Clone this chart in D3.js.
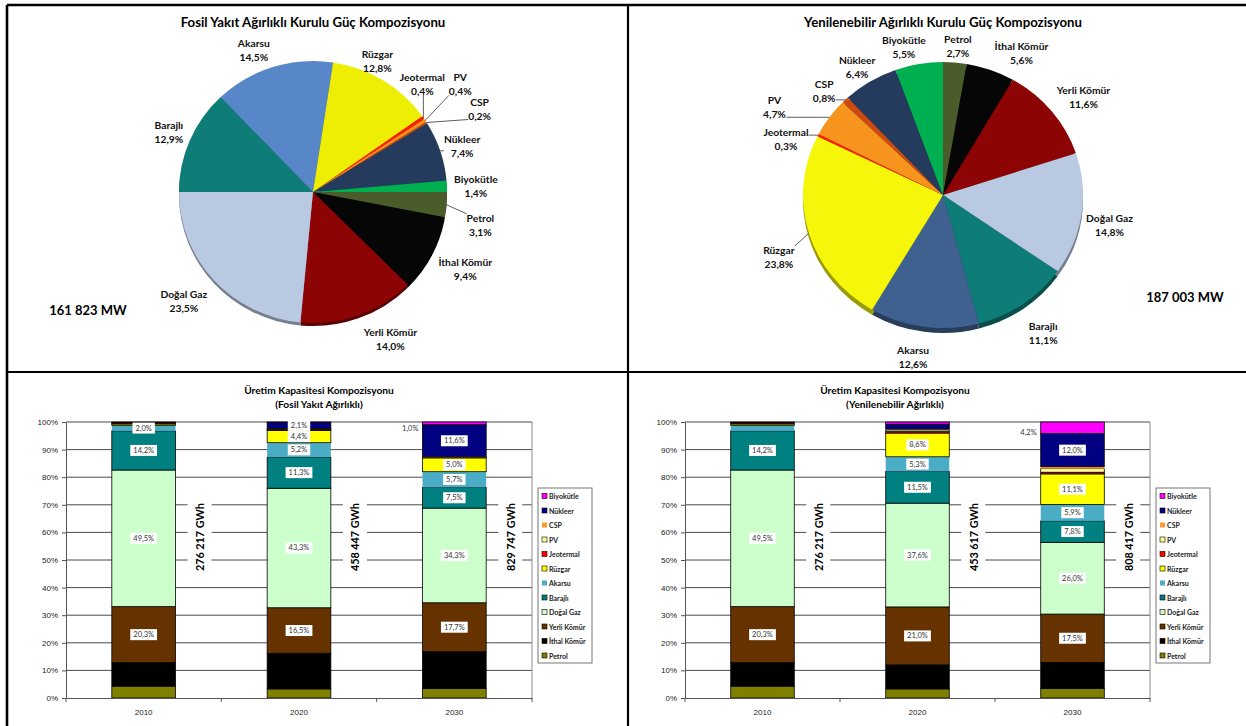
<!DOCTYPE html>
<html><head><meta charset="utf-8">
<script src="https://cdn.jsdelivr.net/npm/d3@7"></script>
<style>
body{margin:0;background:#fff;}
svg{display:block;font-family:Lato,"Open Sans",sans-serif;}
</style></head><body>
<svg id="chart" width="1246" height="726"></svg>
<script>
// ---------- DATA ----------
const series = ["Petrol","İthal Kömür","Yerli Kömür","Doğal Gaz","Barajlı","Akarsu","Rüzgar","Jeotermal","PV","CSP","Nükleer","Biyokütle"];
const years = ["2010","2020","2030"];

const pieFossil = [3.1, 9.4, 14.0, 23.5, 12.9, 14.5, 12.8, 0.4, 0.4, 0.2, 7.4, 1.4];
const pieRenew  = [2.7, 5.6, 11.6, 14.8, 11.1, 12.6, 23.8, 0.3, 4.7, 0.8, 6.4, 5.5];
const mwFossil = 161823;
const mwRenew = 187003;

const fossil2010 = [4.3, 8.5, 20.3, 49.5, 14.2, 2.0, 0.5, 0.4, 0, 0, 0, 0.3];
const fossil2020 = [3.3, 12.9, 16.5, 43.3, 11.3, 5.2, 4.4, 0.4, 0.3, 0.1, 2.1, 0.2];
const fossil2030 = [3.5, 13.3, 17.7, 34.3, 7.5, 5.7, 5.0, 0.1, 0.1, 0.2, 11.6, 1.0];
const renew2010  = [4.3, 8.5, 20.3, 49.5, 14.2, 2.0, 0.5, 0.4, 0, 0, 0, 0.3];
const renew2020  = [3.3, 8.7, 21.0, 37.6, 11.5, 5.3, 8.6, 0.5, 0.6, 0.3, 1.8, 0.8];
const renew2030  = [3.5, 9.4, 17.5, 26.0, 7.8, 5.9, 11.1, 0.6, 1.3, 0.7, 12.0, 4.2];
const gwhFossil = [276217, 458447, 829747];
const gwhRenew  = [276217, 453617, 808417];
const yTicks = [0,10,20,30,40,50,60,70,80,90,100];

// ---------- STYLES ----------
const pieColors = {"Petrol":"#4B5C2B","İthal Kömür":"#060606","Yerli Kömür":"#8C0404","Doğal Gaz":"#B9C9E1",
  "Barajlı":"#0E7C77","Akarsu":"#5787C9","Rüzgar":"#EEEE04","Jeotermal":"#FF1A00","PV":"#F7941D",
  "CSP":"#CC4A10","Nükleer":"#243B5E","Biyokütle":"#00AF50"};
const barColors = {"Petrol":"#808000","İthal Kömür":"#000000","Yerli Kömür":"#663300","Doğal Gaz":"#CCFFCC",
  "Barajlı":"#008080","Akarsu":"#4BACC6","Rüzgar":"#FFFF00","Jeotermal":"#FF0000","PV":"#FFFF99",
  "CSP":"#FF9933","Nükleer":"#000080","Biyokütle":"#FF00FF"};
const noStroke = new Set(["Akarsu","CSP"]);

const fmtPct = v => d3.format(".1f")(v).replace(".", ",") + "%";
const fmtSpace = v => d3.format(",")(v).replace(/,/g, " ");

const svg = d3.select("#chart");

// ---------- PANEL BORDERS ----------
const borders = svg.append("g").attr("stroke","#000").attr("fill","none");
borders.append("line").attr("x1",7).attr("x2",1246).attr("y1",5).attr("y2",5).attr("stroke-width",2.6);
borders.append("line").attr("x1",7).attr("x2",7).attr("y1",5).attr("y2",726).attr("stroke-width",2.6);
borders.append("line").attr("x1",628).attr("x2",628).attr("y1",5).attr("y2",726).attr("stroke-width",2.2);
borders.append("line").attr("x1",7).attr("x2",1246).attr("y1",372).attr("y2",372).attr("stroke-width",2.2);

// ---------- PIE ----------
function drawPie(opts) {
  const g = svg.append("g");
  g.append("text").attr("x", opts.cx).attr("y", 22).attr("text-anchor","middle")
    .attr("dominant-baseline","central").attr("font-weight","bold").attr("font-size",13.2)
    .text(opts.title);
  const items = series.map((s,i)=>({s, v: opts.values[i]}));
  const pie = d3.pie().sort(null).value(d=>d.v).startAngle(opts.start).endAngle(opts.start + 2*Math.PI);
  const arcs = pie(items);
  const arc = d3.arc().innerRadius(0).outerRadius(opts.rx);
  const col = d => (opts.colorOverride && opts.colorOverride[d.data.s]) || pieColors[d.data.s];
  const sy = opts.ry / opts.rx;
  g.append("g").attr("transform", `translate(${opts.cx},${opts.cy + opts.rim}) scale(1,${sy})`)
    .selectAll("path").data(arcs).join("path").attr("d", arc)
    .attr("fill", d => d3.color(col(d)).darker(1.3));
  const top = g.append("g").attr("transform", `translate(${opts.cx},${opts.cy}) scale(1,${sy})`);
  top.selectAll("path").data(arcs).join("path").attr("d", arc).attr("fill", col);

  arcs.forEach((d,i) => {
    const m = (d.startAngle + d.endAngle)/2;
    const ex = opts.cx + opts.rx*Math.sin(m), ey = opts.cy - opts.ry*Math.cos(m);
    const lx = ex + opts.offsets[i][0], ly = ey + opts.offsets[i][1];
    const lg = g.append("g");
    lg.append("text").attr("x", lx).attr("y", ly - 7).attr("text-anchor","middle").attr("dominant-baseline","central")
      .attr("font-weight","bold").attr("font-size",10.3).attr("fill","#111").text(d.data.s);
    lg.append("text").attr("x", lx).attr("y", ly + 7).attr("text-anchor","middle").attr("dominant-baseline","central")
      .attr("font-weight","bold").attr("font-size",10.3).attr("fill","#111").text(fmtPct(d.data.v));
    if (opts.leaders.includes(d.data.s)) {
      const b = lg.node().getBBox();
      const px = Math.max(b.x, Math.min(ex, b.x + b.width));
      const py = Math.max(b.y + 2, Math.min(ey, b.y + b.height - 2));
      g.append("line").attr("x1", px).attr("y1", py).attr("x2", ex).attr("y2", ey)
        .attr("stroke","#333").attr("stroke-width",0.8);
    }
  });
  g.append("text").attr("x", opts.mwX).attr("y", opts.mwY).attr("text-anchor","middle").attr("dominant-baseline","central")
    .attr("font-weight","bold").attr("font-size",13).text(fmtSpace(opts.mw) + " MW");
}

drawPie({title:"Fosil Yakıt Ağırlıklı Kurulu Güç Kompozisyonu", values: pieFossil, cx:313, cy:192, rx:134, ry:131, rim:3,
  start: Math.PI/2, mw: mwFossil, mwX: 88, mwY: 310,
  leaders: ["Jeotermal","PV","CSP","Nükleer","Petrol"],
  offsets: [[34,20],[34,15],[32,24],[-30,21],[-21,-8],[-19,-17],[-6,-20],[-1,-34],[35,-36],[53,-14],[22,-5],[29,0]]});

drawPie({title:"Yenilenebilir Ağırlıklı Kurulu Güç Kompozisyonu", values: pieRenew, cx:943, cy:195, rx:140, ry:133, rim:5,
  start: 0, mw: mwRenew, mwX: 1185, mwY: 297, colorOverride: {"Akarsu":"#3E618F","Rüzgar":"#F6F60A"},
  leaders: ["Jeotermal","PV","CSP","Rüzgar"],
  offsets: [[3,-16],[31,-17],[32,-14],[28,11],[20,29],[-11,30],[-30,24],[-32,4],[-55,-10],[-21,-9],[-13,-14],[-15,-17]]});

// ---------- STACKED BARS ----------
function drawBars(opts) {
  const g = svg.append("g");
  const rows = years.map((yr,j) => { const r = {year: yr}; series.forEach((s,i)=> r[s] = opts.data[j][i]); return r; });
  const x = d3.scaleBand().domain(years).range([opts.x0, opts.x1]);
  const y = d3.scaleLinear().domain([0,100]).range([698,422]);
  const bw = x.bandwidth();
  const barW = bw*0.41;

  g.append("text").attr("x", opts.titleX).attr("y", 390).attr("text-anchor","middle").attr("dominant-baseline","central")
    .attr("font-weight","bold").attr("font-size",10.2).text("Üretim Kapasitesi Kompozisyonu");
  g.append("text").attr("x", opts.titleX).attr("y", 404).attr("text-anchor","middle").attr("dominant-baseline","central")
    .attr("font-weight","bold").attr("font-size",10.2).text(opts.subtitle);

  // gridlines
  g.append("g").selectAll("line").data(yTicks.filter(t=>t>0)).join("line")
    .attr("x1", opts.x0).attr("x2", opts.x1).attr("y1", d=>y(d)).attr("y2", d=>y(d))
    .attr("stroke","#4a4a4a").attr("stroke-width",1);
  g.append("line").attr("x1", opts.x1).attr("x2", opts.x1).attr("y1", y(100)).attr("y2", y(0))
    .attr("stroke","#8a8a8a").attr("stroke-width",1);

  // GWh labels
  years.forEach((yr,j) => {
    const lg = g.append("g").attr("transform", `translate(${x(yr)+bw/2+bw*0.36},${y(58.3)}) rotate(-90)`);
    const t = lg.append("text").attr("text-anchor","middle").attr("dominant-baseline","central")
      .attr("font-weight","bold").attr("font-size",10.8).text(fmtSpace(opts.gwh[j]) + " GWh");
    const w = t.node().getComputedTextLength();
    lg.insert("rect","text").attr("x", -w/2 - 2).attr("y", -12).attr("width", w + 4).attr("height", 24).attr("fill","#fff");
  });

  // bars
  const stack = d3.stack().keys(series)(rows);
  const bars = g.append("g");
  stack.forEach(layer => {
    bars.append("g").selectAll("rect").data(layer).join("rect")
      .attr("x", d => x(d.data.year) + bw/2 - barW/2).attr("width", barW)
      .attr("y", d => y(d[1])).attr("height", d => Math.max(0, y(d[0]) - y(d[1])))
      .attr("fill", barColors[layer.key])
      .attr("stroke", noStroke.has(layer.key) ? "none" : "#000").attr("stroke-width", 0.8);
  });

  // segment labels
  const lab = g.append("g").attr("font-size",7.5).attr("fill","#333");
  stack.forEach(layer => {
    if (!opts.labeled.includes(layer.key)) return;
    layer.forEach(d => {
      const v = d[1] - d[0];
      if (v < opts.threshold) return;
      const cxB = x(d.data.year) + bw/2;
      const ym = y((d[0] + d[1])/2);
      if (layer.key === "Biyokütle") {
        lab.append("text").attr("x", cxB - barW/2 - 4).attr("y", ym + 5).attr("text-anchor","end")
          .attr("dominant-baseline","central").text(fmtPct(v));
        return;
      }
      const t = lab.append("text").attr("x", cxB).attr("y", ym).attr("text-anchor","middle")
        .attr("dominant-baseline","central").text(fmtPct(v));
      const w = t.node().getComputedTextLength();
      lab.insert("rect","text").attr("x", cxB - w/2 - 3).attr("y", ym - 5.5).attr("width", w + 6).attr("height", 11).attr("fill","#fff");
    });
  });
  lab.selectAll("text").raise();

  // axes
  const yAxis = d3.axisLeft(y).tickValues(yTicks).tickFormat(d => d + "%").tickSize(4).tickSizeOuter(0);
  const ya = g.append("g").attr("transform", `translate(${opts.x0},0)`).call(yAxis);
  ya.selectAll("text").attr("font-size",8).attr("fill","#222").attr("dx",-1);
  ya.selectAll("line,path").attr("stroke","#555");
  const xa = g.append("g").attr("transform", `translate(0,${y(0)})`).call(d3.axisBottom(x).tickSize(0).tickPadding(11));
  xa.selectAll("text").attr("font-size",8).attr("fill","#222");
  xa.select("path").attr("stroke","#555");
  const bounds = years.map(yr => x(yr)).concat([opts.x1]);
  g.append("g").selectAll("line").data(bounds).join("line")
    .attr("x1", d=>d).attr("x2", d=>d).attr("y1", y(0)).attr("y2", y(0)+4).attr("stroke","#555");

  // legend
  const lx = opts.x1 + 6, ly = 488;
  const leg = g.append("g");
  leg.append("rect").attr("x", lx).attr("y", ly).attr("width", 54).attr("height", 175)
    .attr("fill","#fff").attr("stroke","#777").attr("stroke-width",1);
  series.slice().reverse().forEach((s,i) => {
    const iy = 496 + i*14.5;
    leg.append("rect").attr("x", lx + 4).attr("y", iy - 2.5).attr("width",5).attr("height",5)
      .attr("fill", barColors[s]).attr("stroke", noStroke.has(s) ? "none" : "#000").attr("stroke-width",0.6);
    leg.append("text").attr("x", lx + 11).attr("y", iy).attr("dominant-baseline","central")
      .attr("font-size",7).attr("font-weight","bold").attr("fill","#222").text(s);
  });
}

const labeledSeries = ["Yerli Kömür","Doğal Gaz","Barajlı","Akarsu","Rüzgar","Nükleer","Biyokütle"];
drawBars({data:[fossil2010, fossil2020, fossil2030], gwh: gwhFossil, x0: 66, x1: 532, titleX: 319,
  subtitle:"(Fosil Yakıt Ağırlıklı)", labeled: labeledSeries, threshold: 1.0});
drawBars({data:[renew2010, renew2020, renew2030], gwh: gwhRenew, x0: 685, x1: 1150, titleX: 895,
  subtitle:"(Yenilenebilir Ağırlıklı)", labeled: labeledSeries, threshold: 2.5});
</script>
</body></html>
